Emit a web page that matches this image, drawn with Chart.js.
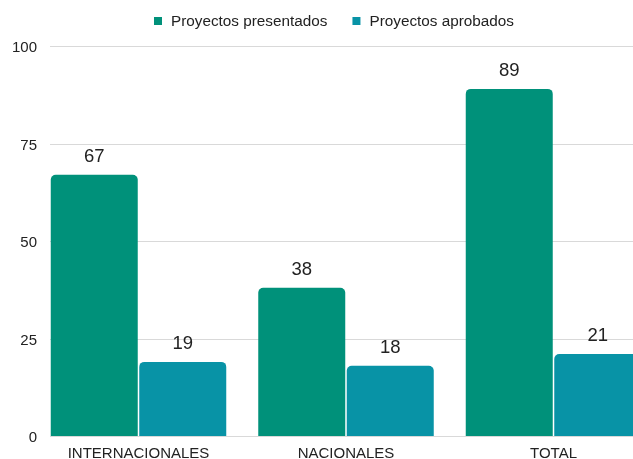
<!DOCTYPE html>
<html>
<head>
<meta charset="utf-8">
<script src="https://cdn.jsdelivr.net/npm/chart.js@4"></script>
<style>
html,body{margin:0;padding:0;overflow:hidden;background:#fff;width:633px;height:459px;}
#wrap{position:absolute;left:0;top:0;width:670px;height:459px;}
</style>
</head>
<body>
<div id="wrap"><canvas id="c" width="670" height="459"></canvas></div>
<script>
const categories = ["INTERNACIONALES", "NACIONALES", "TOTAL"];
const seriesNames = ["Proyectos presentados", "Proyectos aprobados"];
const presentados = [67, 38, 89];
const aprobados = [19, 18, 21];
const yTicks = [0, 25, 50, 75, 100];
const colors = ["#00917a", "#0893a6"];

const FONT = "'Liberation Sans', Arial, sans-serif";

const gridPlugin = {
  id: 'customGrid',
  beforeDatasetsDraw(chart) {
    const y = chart.scales.y;
    const ctx = chart.ctx;
    ctx.save();
    ctx.strokeStyle = '#d9d9d9';
    ctx.lineWidth = 1;
    ctx.font = '15px ' + FONT;
    ctx.textAlign = 'right';
    ctx.textBaseline = 'middle';
    yTicks.forEach(v => {
      const py = Math.round(y.getPixelForValue(v)) + 0.5;
      ctx.beginPath();
      ctx.moveTo(50, py);
      ctx.lineTo(chart.width, py);
      ctx.stroke();
      ctx.fillStyle = '#222222';
      ctx.fillText(String(v), 37, py + 1);
    });
    ctx.restore();
  }
};

const labelPlugin = {
  id: 'valueLabels',
  afterDatasetsDraw(chart) {
    const ctx = chart.ctx;
    ctx.save();
    ctx.font = '18.5px ' + FONT;
    ctx.fillStyle = '#222222';
    ctx.textAlign = 'center';
    ctx.textBaseline = 'bottom';
    chart.data.datasets.forEach((ds, i) => {
      chart.getDatasetMeta(i).data.forEach((bar, j) => {
        ctx.fillText(String(ds.data[j]), bar.x, bar.y - 9);
      });
    });
    ctx.restore();
  }
};

const legendPlugin = {
  id: 'manualLegend',
  afterDraw(chart) {
    const ctx = chart.ctx;
    ctx.save();
    ctx.font = '15.3px ' + FONT;
    ctx.textBaseline = 'middle';
    ctx.textAlign = 'left';
    const box = 8, boxGap = 9, itemGap = 25, cy = 21;
    const widths = chart.data.datasets.map(d => box + boxGap + ctx.measureText(d.label).width);
    const total = widths.reduce((a, b) => a + b, 0) + itemGap * (widths.length - 1);
    let x = 334 - total / 2;
    chart.data.datasets.forEach((d, i) => {
      ctx.fillStyle = d.backgroundColor;
      ctx.fillRect(x, cy - box / 2, box, box);
      ctx.fillStyle = '#222222';
      ctx.fillText(d.label, x + box + boxGap, cy + 0.5);
      x += widths[i] + itemGap;
    });
    ctx.restore();
  }
};

new Chart(document.getElementById('c'), {
  type: 'bar',
  data: {
    labels: categories,
    datasets: [
      { label: seriesNames[0], data: presentados, backgroundColor: colors[0] },
      { label: seriesNames[1], data: aprobados, backgroundColor: colors[1] }
    ]
  },
  options: {
    responsive: false,
    animation: false,
    devicePixelRatio: 1,
    layout: { padding: { left: 0, right: 12.75, top: 46, bottom: 0 } },
    datasets: {
      bar: {
        categoryPercentage: 0.853,
        barPercentage: 0.983,
        borderRadius: { topLeft: 5, topRight: 5, bottomLeft: 0, bottomRight: 0 },
        borderSkipped: false
      }
    },
    plugins: {
      legend: { display: false },
      tooltip: { enabled: false }
    },
    scales: {
      x: {
        afterFit(scale) { scale.height = 23; },
        grid: { display: false },
        border: { display: false },
        ticks: { color: '#222222', font: { family: FONT, size: 15 }, padding: 1 }
      },
      y: {
        min: 0, max: 100,
        afterFit(scale) { scale.width = 34.75; },
        afterBuildTicks(scale) { scale.ticks = yTicks.map(v => ({ value: v })); },
        grid: { display: false, drawTicks: false },
        border: { display: false },
        ticks: { display: false }
      }
    }
  },
  plugins: [gridPlugin, labelPlugin, legendPlugin]
});
</script>
</body>
</html>
